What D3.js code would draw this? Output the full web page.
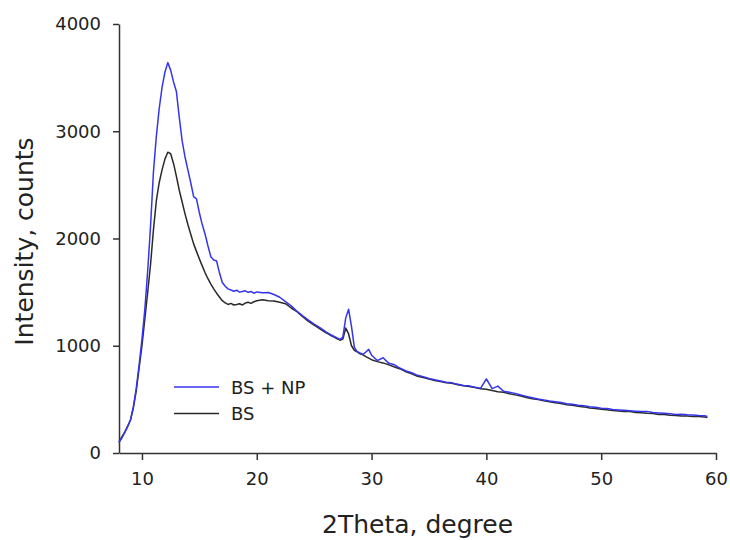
<!DOCTYPE html>
<html>
<head>
<meta charset="utf-8">
<script src="https://cdn.jsdelivr.net/npm/d3@7"></script>
<style>
  html, body { margin: 0; padding: 0; background: #fff; }
  svg text { font-family: "DejaVu Sans", Verdana, sans-serif; fill: #222; }
</style>
</head>
<body>
<div id="chart"></div>
<script>
// 2Theta positions (degree) shared by both patterns
const twoTheta = [
  8, 8.25, 8.5, 8.75, 9, 9.25, 9.5, 9.75, 10, 10.25, 10.5, 10.75, 11, 11.25, 11.5, 11.75,
  12, 12.25, 12.5, 12.75, 13, 13.25, 13.5, 13.75, 14, 14.25, 14.5, 14.75, 15, 15.25, 15.5, 15.75,
  16, 16.25, 16.5, 16.75, 17, 17.25, 17.5, 17.75, 18, 18.25, 18.5, 18.75, 19, 19.25, 19.5, 19.75, 20,
  20.5, 21, 21.5, 22, 22.5, 23, 23.5, 24, 24.5, 25, 25.5, 26,
  26.25, 26.5, 26.75, 27, 27.25, 27.5, 27.75, 28, 28.25, 28.5, 28.75, 29, 29.25, 29.5, 29.75, 30,
  30.5, 31, 31.5, 32, 32.5, 33, 33.5, 34, 34.5, 35, 35.5, 36, 36.5, 37, 37.5, 38, 38.5, 39, 39.5, 40,
  40.5, 41, 41.5, 42, 42.5, 43, 43.5, 44, 44.5, 45, 45.5, 46, 46.5, 47, 47.5, 48, 48.5, 49, 49.5, 50,
  50.5, 51, 51.5, 52, 52.5, 53, 53.5, 54, 54.5, 55, 55.5, 56, 56.5, 57, 57.5, 58, 58.5, 59,
  59.25
];

// BS + NP (blue)
const bsNp = [
  100, 140, 190, 245, 305, 430, 600, 820, 1060, 1340, 1700, 2120, 2620, 2950, 3210, 3410,
  3550, 3640, 3570, 3460, 3370, 3130, 2910, 2760, 2640, 2520, 2390, 2370, 2240, 2130, 2040, 1930,
  1830, 1800, 1790, 1680, 1590, 1555, 1530, 1520, 1508, 1518, 1500, 1506, 1512, 1498, 1506, 1490, 1502,
  1494, 1496, 1478, 1452, 1412, 1372, 1322, 1278, 1238, 1202, 1168, 1132,
  1116, 1100, 1086, 1074, 1060, 1082, 1260, 1340, 1180, 985, 945, 932, 920, 942, 966, 912,
  862, 888, 836, 822, 790, 765, 748, 724, 712, 694, 682, 672, 660, 654, 642, 630, 626, 614, 604, 690,
  600, 624, 576, 566, 556, 540, 528, 516, 504, 494, 484, 478, 470, 460, 454, 446, 440, 432, 426, 418,
  414, 406, 402, 398, 394, 390, 386, 388, 378, 374, 370, 366, 360, 362, 356, 354, 350, 348,
  340
];

// BS (black)
const bs = [
  100, 150, 195, 250, 310, 420, 580, 790, 1000, 1250, 1500, 1760, 2080, 2350, 2520, 2640,
  2740, 2805, 2790, 2700, 2580, 2450, 2340, 2230, 2130, 2040, 1950, 1880, 1810, 1745, 1680, 1625,
  1575, 1530, 1490, 1455, 1420, 1400, 1385, 1395, 1380, 1385, 1392, 1380, 1398, 1405, 1395, 1410, 1420,
  1428, 1420, 1418, 1405, 1392, 1352, 1318, 1272, 1228, 1192, 1158, 1122,
  1108, 1092, 1080, 1064, 1052, 1062, 1165, 1110, 1000, 958, 942, 925, 915, 898, 884, 870,
  852, 840, 822, 802, 784, 758, 738, 716, 704, 690, 676, 667, 654, 650, 636, 626, 620, 610, 598, 594,
  582, 572, 566, 552, 542, 532, 518, 506, 498, 486, 478, 468, 462, 450, 446, 436, 430, 420, 416, 408,
  404, 396, 392, 386, 386, 378, 376, 370, 368, 360, 360, 352, 350, 345, 346, 340, 340, 335,
  332
];

const seriesNames = ['BS + NP', 'BS'];
const seriesColors = ['#3535f0', '#2a2a2a'];
const xTicks = [10, 20, 30, 40, 50, 60];
const yTicks = [0, 1000, 2000, 3000, 4000];

const W = 730, H = 540;
const margin = { top: 24, right: 14, bottom: 87, left: 119 };
const w = W - margin.left - margin.right;
const h = H - margin.top - margin.bottom;

const svg = d3.select('#chart').append('svg')
  .attr('width', W).attr('height', H);

const g = svg.append('g').attr('transform', `translate(${margin.left},${margin.top})`);

const x = d3.scaleLinear().domain([8, 60]).range([0, w]);
const y = d3.scaleLinear().domain([0, 4000]).range([h, 0]);

// Axes
const xAxis = g.append('g')
  .attr('transform', `translate(0,${h})`)
  .call(d3.axisBottom(x).tickValues(xTicks).tickFormat(d3.format('d'))
    .tickSizeInner(7).tickSizeOuter(0).tickPadding(12));
const yAxis = g.append('g')
  .call(d3.axisLeft(y).tickValues(yTicks).tickFormat(d3.format('d'))
    .tickSizeInner(6).tickSizeOuter(0).tickPadding(12));

for (const ax of [xAxis, yAxis]) {
  ax.selectAll('path, line').attr('stroke', '#333').attr('stroke-width', 1.5);
  ax.selectAll('text').attr('font-size', 18).attr('fill', '#222')
    .attr('font-family', '"DejaVu Sans", Verdana, sans-serif');
}

// Axis titles
svg.append('text')
  .attr('x', margin.left + w / 2).attr('y', 533)
  .attr('text-anchor', 'middle').attr('font-size', 25)
  .text('2Theta, degree');

svg.append('text')
  .attr('transform', `translate(33,${margin.top + h / 2 + 3}) rotate(-90)`)
  .attr('text-anchor', 'middle').attr('font-size', 25)
  .text('Intensity, counts');

// Lines
const line = d3.line()
  .x((d, i) => x(twoTheta[i]))
  .y(d => y(d));

[bs, bsNp].forEach((vals, k) => {
  const idx = k === 0 ? 1 : 0;
  g.append('path')
    .datum(vals)
    .attr('fill', 'none')
    .attr('stroke', seriesColors[idx])
    .attr('stroke-width', 1.5)
    .attr('stroke-linejoin', 'round')
    .attr('d', line);
});

// Legend
const legend = svg.append('g').attr('transform', 'translate(174,387)');
seriesNames.forEach((name, i) => {
  const row = legend.append('g').attr('transform', `translate(0,${i * 26.5})`);
  row.append('line')
    .attr('x1', 0).attr('x2', 45)
    .attr('stroke', seriesColors[i]).attr('stroke-width', 1.5);
  row.append('text')
    .attr('x', 57).attr('y', 6.5)
    .attr('font-size', 18)
    .text(name);
});
</script>
</body>
</html>
